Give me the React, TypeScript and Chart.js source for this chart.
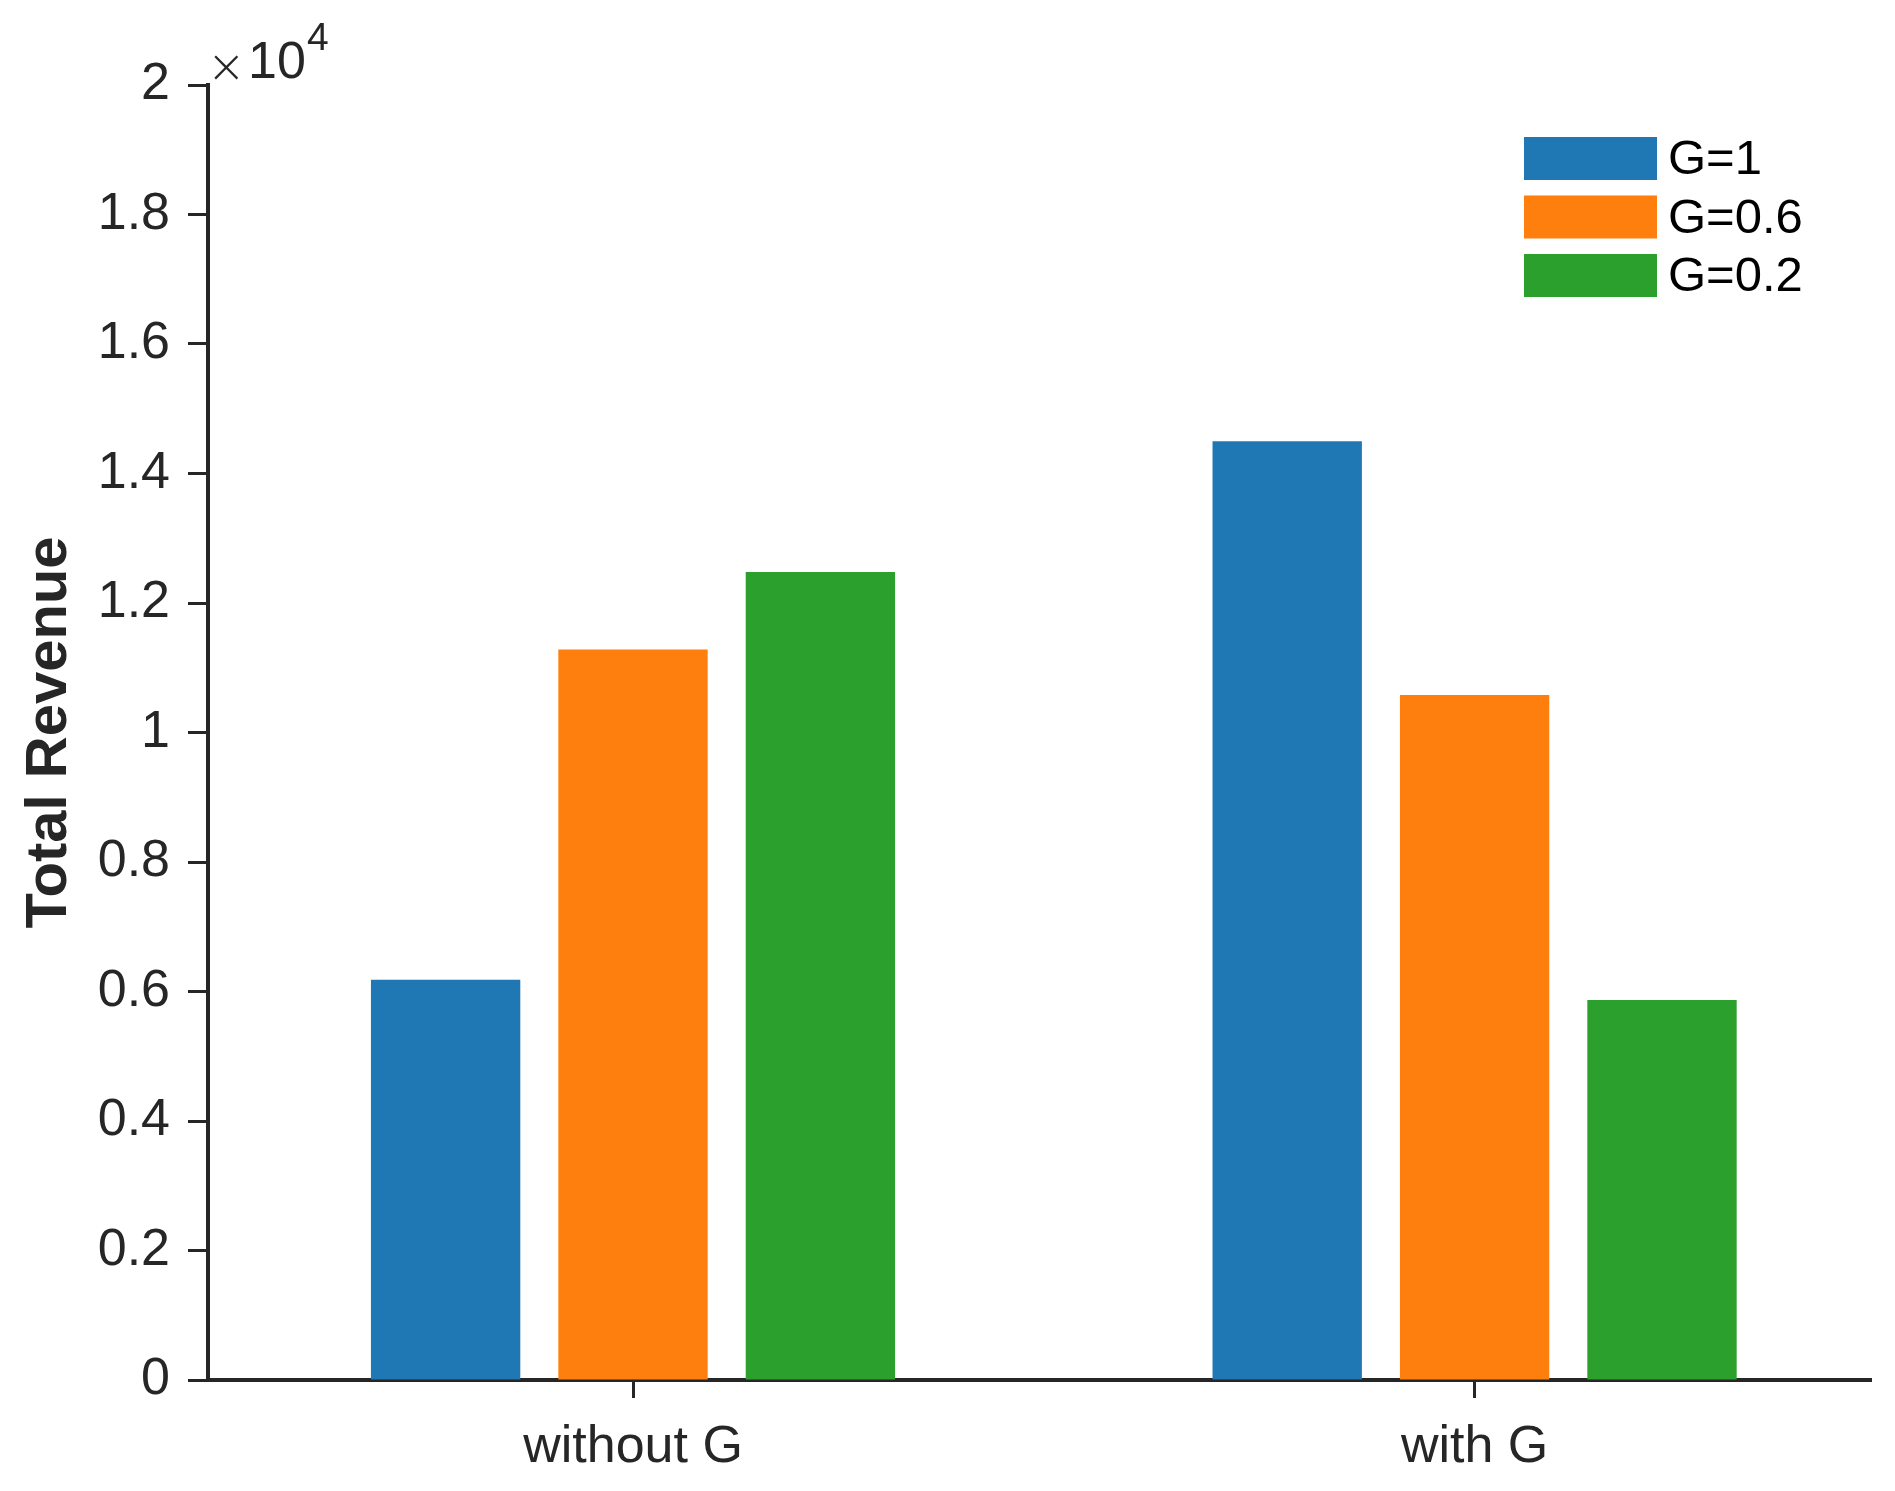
import { useEffect, useRef } from "react";
import { Chart, registerables } from "chart.js";

Chart.register(...registerables);

const categories = ["without G", "with G"];
const seriesLabels = ["G=1", "G=0.6", "G=0.2"];
const seriesG1 = [6180, 14500];
const seriesG06 = [11280, 10580];
const seriesG02 = [12480, 5870];
const seriesColors = ["#1f77b4", "#ff7f0e", "#2ca02c"];
const yTickValues = [0, 2000, 4000, 6000, 8000, 10000, 12000, 14000, 16000, 18000, 20000];
const yTickLabels = ["0", "0.2", "0.4", "0.6", "0.8", "1", "1.2", "1.4", "1.6", "1.8", "2"];
const yExponent = "4";

const FONT = '"Liberation Sans", Arial, Helvetica, sans-serif';
const INK = "#262626";

// x10^4 marker over the y axis and the boxed legend in the top right
const overlayPlugin = {
    id: "overlay",
    afterDraw(chart: any) {
        const { ctx, chartArea } = chart;
        ctx.save();
        ctx.textAlign = "left";
        ctx.textBaseline = "alphabetic";
        ctx.fillStyle = INK;
        ctx.font = `200 46px "DejaVu Sans", sans-serif`;
        ctx.fillText("\u00d7", chartArea.left - 1, chartArea.top - 3);
        ctx.font = `52px ${FONT}`;
        ctx.fillText("10", chartArea.left + 40, chartArea.top - 7);
        ctx.font = `39px ${FONT}`;
        ctx.fillText(yExponent, chartArea.left + 99, chartArea.top - 35);

        const boxX = 1524;
        const boxW = 133;
        const boxH = 43;
        const firstTop = 137;
        const rowStep = 58.5;
        ctx.font = `49px ${FONT}`;
        ctx.textBaseline = "middle";
        chart.data.datasets.forEach((ds: any, i: number) => {
            const top = firstTop + i * rowStep;
            ctx.fillStyle = ds.backgroundColor;
            ctx.fillRect(boxX, top, boxW, boxH);
            ctx.fillStyle = "#000000";
            ctx.fillText(ds.label, boxX + boxW + 11, top + boxH / 2 + 2);
        });
        ctx.restore();
    },
};

const RevenueChart: React.FC = () => {
    const chartRef = useRef<HTMLCanvasElement>(null);

    useEffect(() => {
        if (!chartRef.current) return;
        const ctx = chartRef.current.getContext("2d");
        if (!ctx) return;

        const series = [seriesG1, seriesG06, seriesG02];

        const chart = new Chart(ctx, {
            type: "bar",
            data: {
                datasets: series.map((values, s) => ({
                    label: seriesLabels[s],
                    data: values.map((v, i) => ({ x: i + 1, y: v })),
                    backgroundColor: seriesColors[s],
                    borderWidth: 0,
                    categoryPercentage: 0.668,
                    barPercentage: 0.797,
                })),
            },
            options: {
                animation: false,
                responsive: true,
                maintainAspectRatio: false,
                devicePixelRatio: 1,
                layout: {
                    padding: { top: 85, right: 24, left: 0, bottom: 0 },
                },
                plugins: {
                    legend: { display: false },
                    tooltip: { enabled: false },
                },
                scales: {
                    x: {
                        type: "linear",
                        min: 0.495,
                        max: 2.471,
                        offset: false,
                        afterBuildTicks: (scale: any) => {
                            scale.ticks = categories.map((_, i) => ({ value: i + 1 }));
                        },
                        afterFit: (scale: any) => {
                            scale.height = 111;
                        },
                        grid: {
                            offset: false,
                            drawOnChartArea: false,
                            drawTicks: true,
                            tickLength: 18,
                            tickWidth: 3,
                            tickColor: INK,
                        },
                        border: { display: true, color: INK, width: 4 },
                        ticks: {
                            autoSkip: false,
                            maxRotation: 0,
                            padding: 18,
                            color: INK,
                            font: { family: FONT, size: 52 },
                            callback: (value: any) => categories[Math.round(Number(value)) - 1],
                        },
                    },
                    y: {
                        min: 0,
                        max: 20000,
                        afterBuildTicks: (scale: any) => {
                            scale.ticks = yTickValues.map((v) => ({ value: v }));
                        },
                        afterFit: (scale: any) => {
                            scale.width = 208;
                        },
                        grid: {
                            drawOnChartArea: false,
                            drawTicks: true,
                            tickLength: 20,
                            tickWidth: 3,
                            tickColor: INK,
                        },
                        border: { display: true, color: INK, width: 4 },
                        ticks: {
                            padding: 18,
                            color: INK,
                            font: { family: FONT, size: 52 },
                            callback: (_value: any, index: number) => yTickLabels[index],
                        },
                        title: {
                            display: true,
                            text: "Total Revenue",
                            color: INK,
                            font: { family: FONT, size: 58, weight: "bold" },
                            padding: { top: 15, bottom: 0 },
                        },
                    },
                },
            },
            plugins: [overlayPlugin],
        });

        return () => {
            chart.destroy();
        };
    }, []);

    return (
        <div style={{ position: "fixed", left: 0, top: 0, width: "1895px", height: "1491px", background: "#ffffff" }}>
            <canvas ref={chartRef}></canvas>
        </div>
    );
};

export default function App() {
    return <RevenueChart />;
}
